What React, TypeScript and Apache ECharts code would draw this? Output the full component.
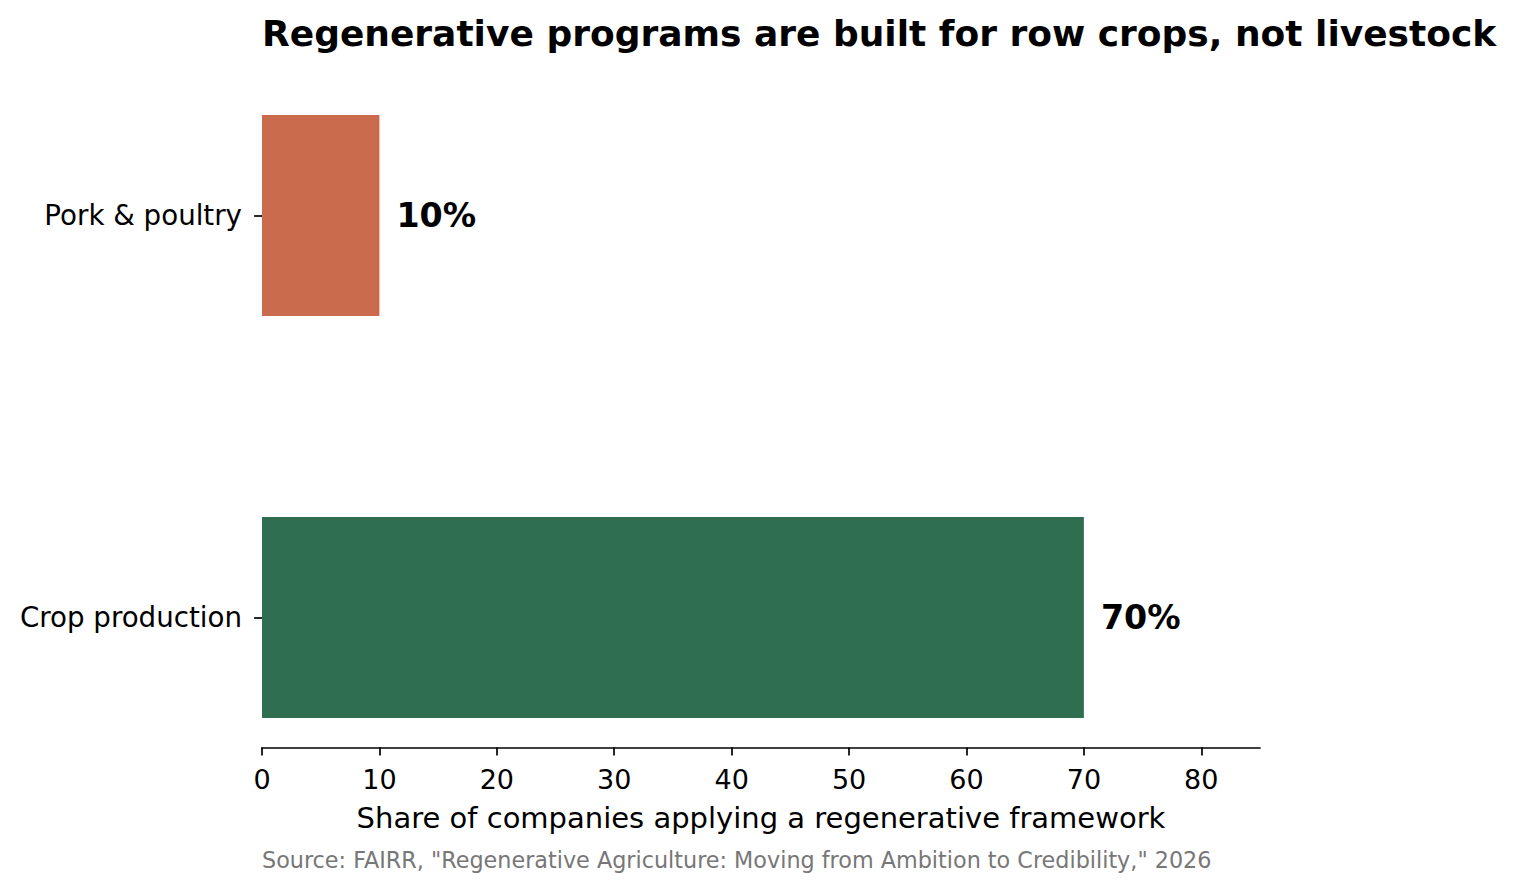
import React, { useEffect, useRef } from 'react';
import * as echarts from 'echarts';

const categories = ['Crop production', 'Pork & poultry'];
const shares = [70, 10];
const barColors = ['#2F6E51', '#C96B4C'];
const xTicks = [0, 10, 20, 30, 40, 50, 60, 70, 80];

const FONT = "'DejaVu Sans', 'Noto Sans', sans-serif";

const App: React.FC = () => {
  const chartRef = useRef<HTMLDivElement>(null);

  useEffect(() => {
    if (!chartRef.current) return;
    const chart = echarts.init(chartRef.current, undefined, { renderer: 'svg' });

    const option = {
      animation: false,
      backgroundColor: '#ffffff',
      textStyle: { fontFamily: FONT },
      title: {
        text: 'Regenerative programs are built for row crops, not livestock',
        left: 262,
        top: 15,
        padding: 0,
        textStyle: { fontFamily: FONT, fontSize: 36, fontWeight: 'bold', color: '#000' }
      },
      // category band = 402px, so the grid runs past the axis line; the x axis is pulled up with offset
      grid: { left: 262, right: 261, top: 14.5, height: 804 },
      xAxis: {
        type: 'value',
        min: 0,
        max: 85,
        interval: 10,
        offset: -71,
        name: 'Share of companies applying a regenerative framework',
        nameLocation: 'middle',
        nameGap: 56,
        nameTextStyle: { fontFamily: FONT, fontSize: 29, color: '#000' },
        axisLine: { show: true, lineStyle: { color: '#000', width: 1.7 } },
        axisTick: { show: true, length: 8, customValues: xTicks, lineStyle: { color: '#000', width: 1.7 } },
        axisLabel: { customValues: xTicks, margin: 18, fontFamily: FONT, fontSize: 27, color: '#000' },
        splitLine: { show: false }
      },
      yAxis: {
        type: 'category',
        data: categories,
        axisLine: { show: false },
        axisTick: { show: true, alignWithLabel: true, length: 8, lineStyle: { color: '#000', width: 1.7 } },
        axisLabel: { margin: 20, fontFamily: FONT, fontSize: 27.7, color: '#000' },
        splitLine: { show: false }
      },
      series: [
        {
          type: 'bar',
          barWidth: '50%',
          data: shares.map((v, i) => ({ value: v, itemStyle: { color: barColors[i] } })),
          label: {
            show: true,
            position: 'right',
            distance: 17,
            formatter: (p: any) => `${p.value}%`,
            fontFamily: FONT,
            fontSize: 33.3,
            fontWeight: 'bold',
            color: '#000'
          }
        }
      ],
      graphic: [
        {
          type: 'text',
          left: 262,
          top: 849,
          style: {
            text: 'Source: FAIRR, "Regenerative Agriculture: Moving from Ambition to Credibility," 2026',
            fontFamily: FONT,
            fontSize: 22.3,
            fill: '#777777'
          }
        }
      ]
    };

    chart.setOption(option);
    return () => {
      chart.dispose();
    };
  }, []);

  return (
    <div
      ref={chartRef}
      style={{ position: 'fixed', left: 0, top: 0, width: 1521, height: 891, background: '#fff' }}
    />
  );
};

export default App;
